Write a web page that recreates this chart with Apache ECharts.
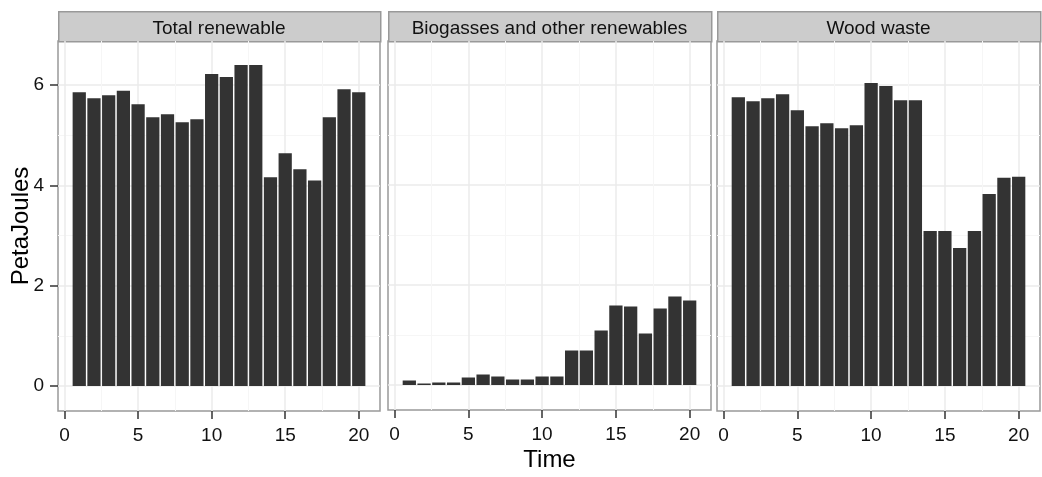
<!DOCTYPE html>
<html>
<head>
<meta charset="utf-8">
<script src="https://cdn.jsdelivr.net/npm/echarts@6/dist/echarts.min.js"></script>
<style>
  html, body { margin: 0; padding: 0; background: #fff; }
  #chart { width: 1042px; height: 477px; }
</style>
</head>
<body>
<div id="chart"></div>
<script>
// facet titles
const panels = ['Total renewable', 'Biogasses and other renewables', 'Wood waste']

// x positions of bars
const time = [1, 2, 3, 4, 5, 6, 7, 8, 9, 10, 11, 12, 13, 14, 15, 16, 17, 18, 19, 20]

// PetaJoules
const totalRenewable = [5.86, 5.74, 5.80, 5.89, 5.62, 5.36, 5.42, 5.26, 5.32, 6.22,
  6.16, 6.40, 6.40, 4.16, 4.64, 4.32, 4.10, 5.36, 5.92, 5.86]
const biogasses = [0.09, 0.03, 0.05, 0.05, 0.15, 0.21, 0.17, 0.11, 0.11, 0.17,
  0.17, 0.69, 0.69, 1.09, 1.59, 1.57, 1.03, 1.53, 1.77, 1.69]
const woodWaste = [5.76, 5.68, 5.74, 5.82, 5.50, 5.18, 5.24, 5.14, 5.20, 6.04,
  5.98, 5.70, 5.70, 3.09, 3.09, 2.75, 3.09, 3.83, 4.15, 4.17]

const values = [totalRenewable, biogasses, woodWaste]

// tick labels / grid lines
const yTicks = [0, 2, 4, 6]
const yMinor = [1, 3, 5]
const xTicks = [0, 5, 10, 15, 20]
const xMinor = [2.5, 7.5, 12.5, 17.5]

const xRange = [-0.445, 21.445]
const yRange = [-0.5, 6.88]

// panel boxes (px)
const boxes = [
  { left: 58, width: 322 },
  { left: 388, width: 323 },
  { left: 717, width: 323 }
]
const panelTop = 41
const panelH = 370
const stripH = 30

const font = '"Liberation Sans", Arial, Helvetica, sans-serif'
const textCol = '#111'

let grid = []
let xAxis = []
let yAxis = []
let series = []
let graphic = []

boxes.forEach((b, i) => {
  grid.push({
    left: b.left, top: panelTop, width: b.width, height: panelH,
    show: true, borderColor: '#999', borderWidth: 1.5, backgroundColor: 'transparent'
  })
})

// main axes
boxes.forEach((b, i) => {
  xAxis.push({
    type: 'value', gridIndex: i, min: xRange[0], max: xRange[1], position: 'bottom',
    axisLine: { show: false, onZero: false },
    axisTick: { show: true, customValues: xTicks, length: 8, lineStyle: { color: '#333', width: 1.5 } },
    axisLabel: { show: true, customValues: xTicks, margin: 15, fontSize: 19, color: textCol, fontFamily: font },
    splitLine: { show: true, lineStyle: { color: '#EBEBEB', width: 1.5 } },
    name: i === 1 ? 'Time' : '',
    nameLocation: 'middle', nameGap: 38, nameMoveOverlap: false,
    nameTextStyle: { fontSize: 24, color: '#000', fontFamily: font }
  })
  yAxis.push({
    type: 'value', gridIndex: i, min: yRange[0], max: yRange[1], position: 'left',
    axisLine: { show: false, onZero: false },
    axisTick: { show: i === 0, customValues: yTicks, length: 8, lineStyle: { color: '#333', width: 1.5 } },
    axisLabel: { show: i === 0, customValues: yTicks, margin: 14, fontSize: 19, color: textCol, fontFamily: font },
    splitLine: { show: true, lineStyle: { color: '#EBEBEB', width: 1.5 } },
    name: i === 0 ? 'PetaJoules' : '',
    nameLocation: 'middle', nameGap: 25, nameMoveOverlap: false,
    nameTextStyle: { fontSize: 24, color: '#000', fontFamily: font }
  })
})

// minor grid axes
boxes.forEach((b, i) => {
  xAxis.push({
    type: 'value', gridIndex: i, min: xRange[0], max: xRange[1], position: 'top',
    axisLine: { show: false, onZero: false },
    axisTick: { show: false, customValues: xMinor },
    axisLabel: { show: false, customValues: xMinor },
    splitLine: { show: true, lineStyle: { color: '#F6F6F6', width: 1 } }
  })
  yAxis.push({
    type: 'value', gridIndex: i, min: yRange[0], max: yRange[1], position: 'right',
    axisLine: { show: false, onZero: false },
    axisTick: { show: false, customValues: yMinor },
    axisLabel: { show: false, customValues: yMinor },
    splitLine: { show: true, lineStyle: { color: '#F6F6F6', width: 1 } }
  })
})

boxes.forEach((b, i) => {
  const unit = b.width / (xRange[1] - xRange[0])
  series.push({
    type: 'bar',
    name: panels[i],
    xAxisIndex: i,
    yAxisIndex: i,
    barWidth: 0.9 * unit,
    itemStyle: { color: '#333333' },
    data: time.map((t, k) => [t, values[i][k]])
  })

  // strip
  graphic.push({
    type: 'rect',
    left: b.left, top: panelTop - stripH,
    shape: { width: b.width, height: stripH },
    style: { fill: '#CCCCCC', stroke: '#999', lineWidth: 1.5 }
  })
  graphic.push({
    type: 'text',
    x: b.left + b.width / 2, y: panelTop - stripH / 2 + 2.5,
    style: {
      text: panels[i], fill: textCol, font: '19px ' + font,
      textAlign: 'center', textVerticalAlign: 'middle'
    }
  })
})

const option = {
  backgroundColor: '#fff',
  animation: false,
  grid: grid,
  xAxis: xAxis,
  yAxis: yAxis,
  series: series,
  graphic: graphic
}

const myChart = echarts.init(document.getElementById('chart'))
myChart.setOption(option)
</script>
</body>
</html>
